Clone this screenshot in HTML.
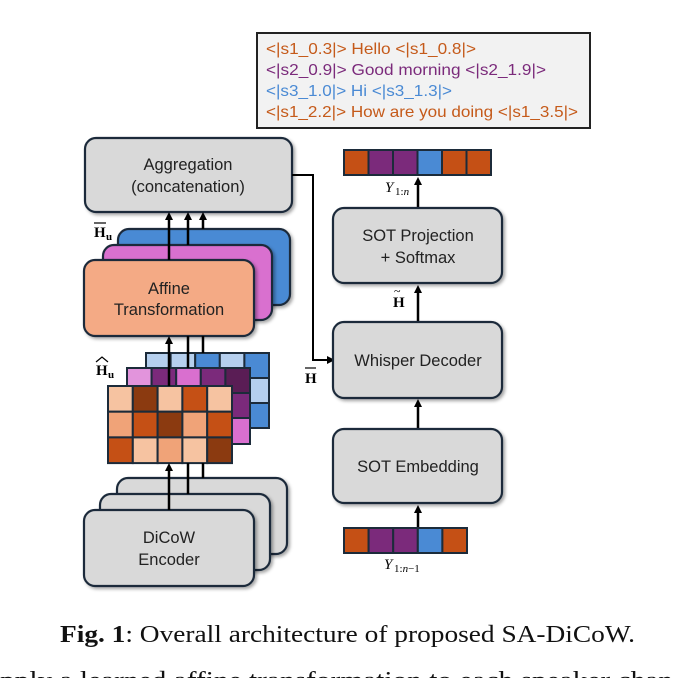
<!DOCTYPE html>
<html><head><meta charset="utf-8"><style>
html,body{margin:0;padding:0;background:#fff;}
svg{display:block;}
.s{font-family:"Liberation Sans",sans-serif;}
.m{font-family:"Liberation Serif",serif;}
</style></head><body>
<svg width="673" height="678" viewBox="0 0 673 678" xmlns="http://www.w3.org/2000/svg">
<defs>
<marker id="ah" markerWidth="8" markerHeight="8" refX="4" refY="4" orient="auto" markerUnits="userSpaceOnUse">
<path d="M0,0 L8,4 L0,8 z" fill="#000"/></marker>
<filter id="sh" x="-10%" y="-10%" width="130%" height="130%"><feDropShadow dx="2" dy="2" stdDeviation="1.5" flood-opacity="0.35"/></filter>
</defs>

<!-- text box -->
<rect x="257" y="33" width="333" height="95" fill="#f2f2f2" stroke="#222" stroke-width="2"/>
<g class="s" font-size="16">
<text x="266" y="54" fill="#c55a1a" textLength="210" lengthAdjust="spacingAndGlyphs">&lt;|s1_0.3|&gt; Hello &lt;|s1_0.8|&gt;</text>
<text x="266" y="75" fill="#7b2a7b" textLength="280" lengthAdjust="spacingAndGlyphs">&lt;|s2_0.9|&gt; Good morning &lt;|s2_1.9|&gt;</text>
<text x="266" y="96" fill="#4a8ad4" textLength="186" lengthAdjust="spacingAndGlyphs">&lt;|s3_1.0|&gt; Hi &lt;|s3_1.3|&gt;</text>
<text x="266" y="117" fill="#c55a1a" textLength="312" lengthAdjust="spacingAndGlyphs">&lt;|s1_2.2|&gt; How are you doing &lt;|s1_3.5|&gt;</text>
</g>

<!-- Aggregation -->
<rect x="85" y="138" width="207" height="74" rx="11" fill="#d9d9d9" stroke="#1c2b3a" stroke-width="2.2" filter="url(#sh)"/>
<text class="s" font-size="16.5" x="188" y="170" text-anchor="middle" fill="#222">Aggregation</text>
<text class="s" font-size="16.5" x="188" y="192" text-anchor="middle" fill="#222">(concatenation)</text>

<!-- connector to decoder -->
<polyline points="292,175 313,175 313,360 331,360" fill="none" stroke="#000" stroke-width="2" marker-end="url(#ah)"/>
<text class="m" font-size="15" font-weight="bold" x="305" y="383">H</text>
<line x1="305" y1="368" x2="316" y2="368" stroke="#000" stroke-width="1.2"/>

<!-- affine stack -->
<rect x="118" y="229" width="172" height="76" rx="11" fill="#4a8ad4" stroke="#1c2b3a" stroke-width="2.2" filter="url(#sh)"/>
<rect x="103" y="245" width="169" height="75" rx="11" fill="#d96fcf" stroke="#1c2b3a" stroke-width="2.2" filter="url(#sh)"/>
<rect x="84" y="260" width="170" height="76" rx="11" fill="#f4aa85" stroke="#1c2b3a" stroke-width="2.2" filter="url(#sh)"/>
<text class="s" font-size="16.5" x="169" y="294" text-anchor="middle" fill="#222">Affine</text>
<text class="s" font-size="16.5" x="169" y="315" text-anchor="middle" fill="#222">Transformation</text>
<text class="m" font-size="15" font-weight="bold" x="94" y="237">H</text>
<text class="m" font-size="11" font-weight="bold" x="106" y="240">u</text>
<line x1="94" y1="223" x2="106" y2="223" stroke="#000" stroke-width="1.2"/>

<!-- arrows affine -> aggregation -->
<line x1="188" y1="245" x2="188" y2="216" stroke="#000" stroke-width="2.5" marker-end="url(#ah)"/>
<line x1="203" y1="229" x2="203" y2="216" stroke="#000" stroke-width="2.5" marker-end="url(#ah)"/>
<line x1="169" y1="260" x2="169" y2="216" stroke="#000" stroke-width="2.5" marker-end="url(#ah)"/>

<!-- matrices -->
<g stroke="#1c2b3a" stroke-width="2">
<rect x="146" y="353" width="123" height="75" fill="#4a8ad4"/>
<rect x="146" y="353" width="24.6" height="25" fill="#b5cfee"/><rect x="170.6" y="353" width="24.6" height="25" fill="#b5cfee"/><rect x="195.2" y="353" width="24.6" height="25" fill="#4a8ad4"/><rect x="219.8" y="353" width="24.6" height="25" fill="#b5cfee"/><rect x="244.4" y="353" width="24.6" height="25" fill="#4a8ad4"/>
<rect x="244.4" y="378" width="24.6" height="25" fill="#b5cfee"/><rect x="244.4" y="403" width="24.6" height="25" fill="#4a8ad4"/>
</g>
<g stroke="#1c2b3a" stroke-width="2">
<rect x="127" y="368" width="123" height="76" fill="#7b2a7b"/>
<rect x="127" y="368" width="24.6" height="25" fill="#e294dc"/><rect x="151.6" y="368" width="24.6" height="25" fill="#7b2a7b"/><rect x="176.2" y="368" width="24.6" height="25" fill="#d96fcf"/><rect x="200.8" y="368" width="24.6" height="25" fill="#7b2a7b"/><rect x="225.4" y="368" width="24.6" height="25" fill="#5a1d55"/>
<rect x="225.4" y="393" width="24.6" height="25" fill="#7b2a7b"/><rect x="225.4" y="418" width="24.6" height="26" fill="#d96fcf"/>
</g>
<g stroke="#1c2b3a" stroke-width="2">
<rect x="108" y="386" width="24.8" height="25.7" fill="#f6c3a1"/><rect x="132.8" y="386" width="24.8" height="25.7" fill="#8b3a10"/><rect x="157.6" y="386" width="24.8" height="25.7" fill="#f6c3a1"/><rect x="182.4" y="386" width="24.8" height="25.7" fill="#c55015"/><rect x="207.2" y="386" width="24.8" height="25.7" fill="#f6c3a1"/>
<rect x="108" y="411.7" width="24.8" height="25.7" fill="#f0a378"/><rect x="132.8" y="411.7" width="24.8" height="25.7" fill="#c55015"/><rect x="157.6" y="411.7" width="24.8" height="25.7" fill="#8b3a10"/><rect x="182.4" y="411.7" width="24.8" height="25.7" fill="#f0a378"/><rect x="207.2" y="411.7" width="24.8" height="25.7" fill="#c55015"/>
<rect x="108" y="437.4" width="24.8" height="25.7" fill="#c55015"/><rect x="132.8" y="437.4" width="24.8" height="25.7" fill="#f6c3a1"/><rect x="157.6" y="437.4" width="24.8" height="25.7" fill="#f0a378"/><rect x="182.4" y="437.4" width="24.8" height="25.7" fill="#f6c3a1"/><rect x="207.2" y="437.4" width="24.8" height="25.7" fill="#8b3a10"/>
</g>
<text class="m" font-size="15" font-weight="bold" x="96" y="375">H</text>
<text class="m" font-size="11" font-weight="bold" x="108" y="378">u</text>
<path d="M96,362 L102,357 L108,362" fill="none" stroke="#000" stroke-width="1.2"/>

<!-- arrows matrices -> affine -->
<line x1="169" y1="386" x2="169" y2="340" stroke="#000" stroke-width="2.5" marker-end="url(#ah)"/>
<line x1="188" y1="368" x2="188" y2="336" stroke="#000" stroke-width="2.5"/>
<line x1="203" y1="353" x2="203" y2="336" stroke="#000" stroke-width="2.5"/>

<!-- encoder stack -->
<rect x="117" y="478" width="170" height="76" rx="11" fill="#d9d9d9" stroke="#1c2b3a" stroke-width="2.2" filter="url(#sh)"/>
<rect x="100" y="494" width="170" height="76" rx="11" fill="#d9d9d9" stroke="#1c2b3a" stroke-width="2.2" filter="url(#sh)"/>
<rect x="84" y="510" width="170" height="76" rx="11" fill="#d9d9d9" stroke="#1c2b3a" stroke-width="2.2" filter="url(#sh)"/>
<text class="s" font-size="16.5" x="169" y="543" text-anchor="middle" fill="#222">DiCoW</text>
<text class="s" font-size="16.5" x="169" y="565" text-anchor="middle" fill="#222">Encoder</text>
<line x1="169" y1="510" x2="169" y2="467" stroke="#000" stroke-width="2.5" marker-end="url(#ah)"/>
<line x1="188" y1="494" x2="188" y2="463" stroke="#000" stroke-width="2.5"/>
<line x1="203" y1="478" x2="203" y2="463" stroke="#000" stroke-width="2.5"/>

<!-- right column -->
<g stroke="#1c2b3a" stroke-width="2">
<rect x="344" y="150" width="24.5" height="25" fill="#c55015"/><rect x="368.5" y="150" width="24.5" height="25" fill="#7b2a7b"/><rect x="393" y="150" width="24.5" height="25" fill="#7b2a7b"/><rect x="417.5" y="150" width="24.5" height="25" fill="#4a8ad4"/><rect x="442" y="150" width="24.5" height="25" fill="#c55015"/><rect x="466.5" y="150" width="24.5" height="25" fill="#c55015"/>
</g>
<text class="m" font-size="15" font-style="italic" x="385" y="192">Y</text>
<text class="m" font-size="11" x="395" y="195">1:<tspan font-style="italic">n</tspan></text>
<line x1="418" y1="208" x2="418" y2="181" stroke="#000" stroke-width="2.5" marker-end="url(#ah)"/>

<rect x="333" y="208" width="169" height="75" rx="11" fill="#d9d9d9" stroke="#1c2b3a" stroke-width="2.2" filter="url(#sh)"/>
<text class="s" font-size="16.5" x="418" y="241" text-anchor="middle" fill="#222">SOT Projection</text>
<text class="s" font-size="16.5" x="418" y="263" text-anchor="middle" fill="#222">+ Softmax</text>
<line x1="418" y1="322" x2="418" y2="289" stroke="#000" stroke-width="2.5" marker-end="url(#ah)"/>
<text class="m" font-size="15" font-weight="bold" x="393" y="307">H</text>
<text class="m" font-size="12" x="394" y="295">~</text>

<rect x="333" y="322" width="169" height="76" rx="11" fill="#d9d9d9" stroke="#1c2b3a" stroke-width="2.2" filter="url(#sh)"/>
<text class="s" font-size="16.5" x="418" y="366" text-anchor="middle" fill="#222">Whisper Decoder</text>
<line x1="418" y1="429" x2="418" y2="403" stroke="#000" stroke-width="2.5" marker-end="url(#ah)"/>

<rect x="333" y="429" width="169" height="74" rx="11" fill="#d9d9d9" stroke="#1c2b3a" stroke-width="2.2" filter="url(#sh)"/>
<text class="s" font-size="16.5" x="418" y="472" text-anchor="middle" fill="#222">SOT Embedding</text>
<line x1="418" y1="527" x2="418" y2="509" stroke="#000" stroke-width="2.5" marker-end="url(#ah)"/>

<g stroke="#1c2b3a" stroke-width="2">
<rect x="344" y="528" width="24.6" height="25" fill="#c55015"/><rect x="368.6" y="528" width="24.6" height="25" fill="#7b2a7b"/><rect x="393.2" y="528" width="24.6" height="25" fill="#7b2a7b"/><rect x="417.8" y="528" width="24.6" height="25" fill="#4a8ad4"/><rect x="442.4" y="528" width="24.6" height="25" fill="#c55015"/>
</g>
<text class="m" font-size="15" font-style="italic" x="384" y="569">Y</text>
<text class="m" font-size="11" x="394" y="572">1:<tspan font-style="italic">n</tspan>−1</text>

<!-- caption -->
<text class="m" font-size="24" x="60" y="642" fill="#111" textLength="575" lengthAdjust="spacingAndGlyphs"><tspan font-weight="bold">Fig. 1</tspan>: Overall architecture of proposed SA-DiCoW.</text>
<text class="m" font-size="24" x="0" y="688" fill="#111" textLength="673" lengthAdjust="spacingAndGlyphs">pply a learned affine transformation to each speaker chan</text>
</svg>
</body></html>
